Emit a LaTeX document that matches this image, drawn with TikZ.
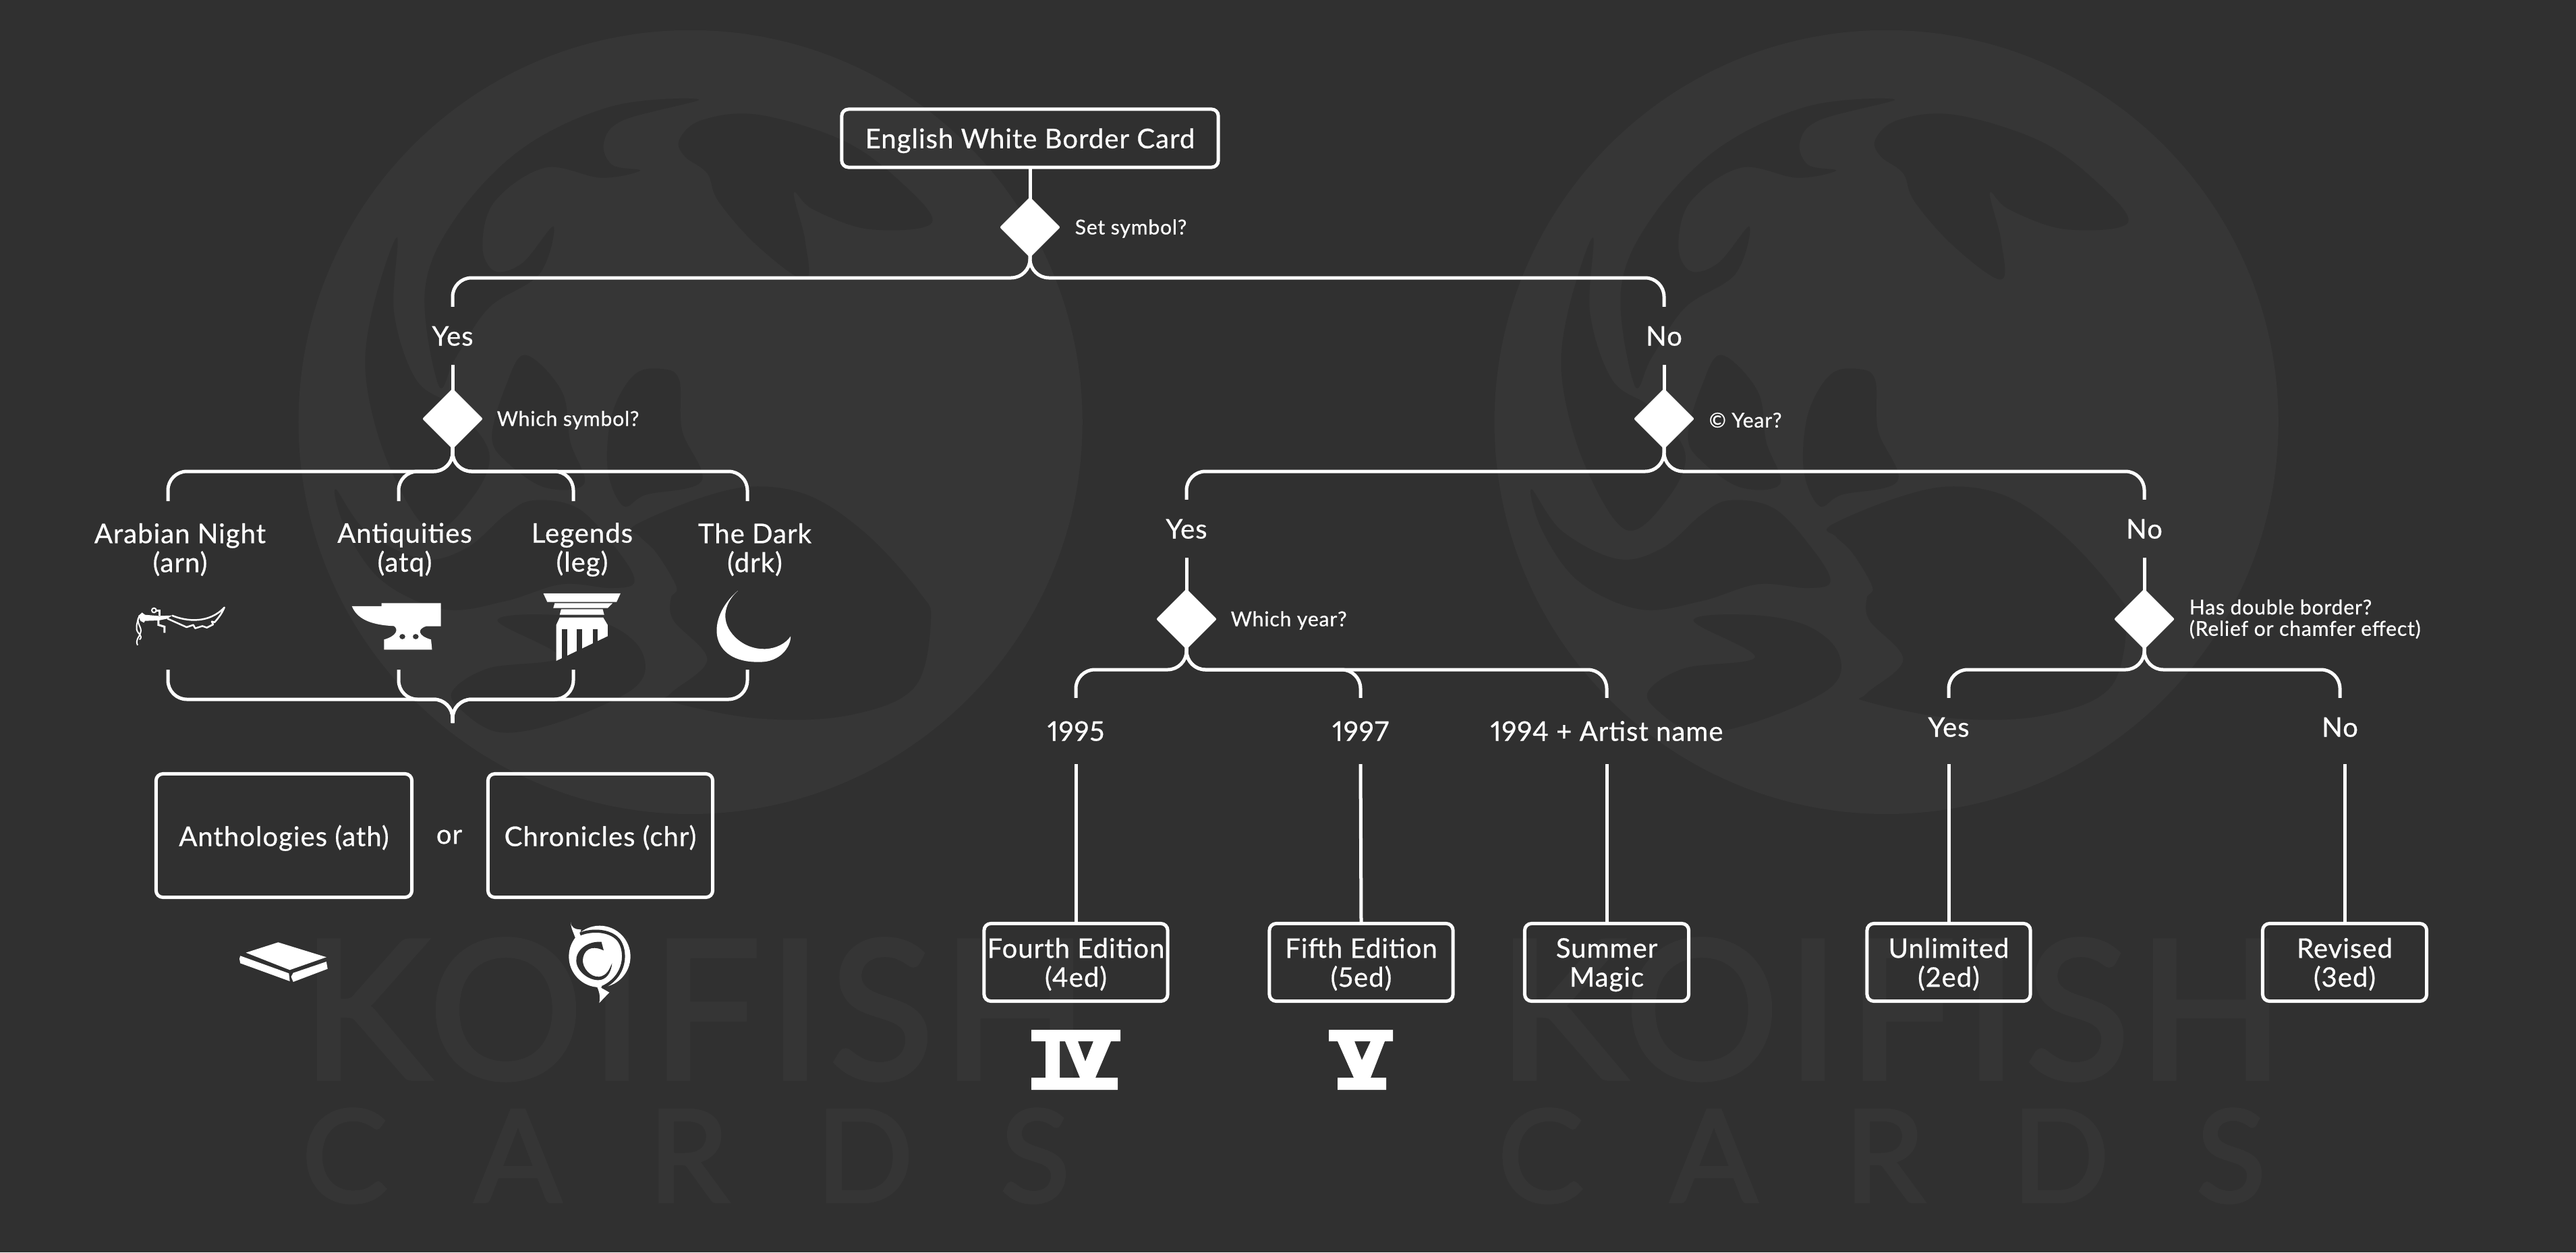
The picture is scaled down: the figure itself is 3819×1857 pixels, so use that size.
\documentclass[tikz,border=0pt]{standalone}
\usepackage{fontspec}
\setmainfont[LetterSpace=2.5,FakeBold=0.6,Numbers=Proportional]{Lato}
\newfontfamily\markfont[LetterSpace=4,FakeBold=2.5]{Lato}
\newfontfamily\cardsfont[LetterSpace=68,FakeBold=2.5]{Lato}
\usetikzlibrary{shapes.geometric}
\definecolor{bgdark}{HTML}{303030}
\definecolor{bgmark}{HTML}{363636}
\definecolor{bgtext}{HTML}{353535}
\tikzset{
  wire/.style={draw=white,line width=0.05cm,rounded corners=0.28cm},
  glyph/.style={fill=white,draw=none},
  boxnode/.style={draw=white,line width=0.05cm,rounded corners=0.1cm,inner sep=0pt,outer sep=0pt,text depth=0pt,
    text=white,align=center,font=\fontsize{11.4}{12.2}\selectfont},
  query/.style={diamond,aspect=1,fill=white,draw=white,line width=0.04cm,line join=round,
    minimum size=0.84cm,inner sep=0pt,outer sep=0pt},
  answer/.style={text=white,inner sep=0pt,outer sep=0pt,minimum height=0.86cm,text height=0.36cm,text depth=0.07cm,
    font=\fontsize{11.4}{12.2}\selectfont},
  setname/.style={text=white,inner sep=0pt,align=center,font=\fontsize{11.4}{12.2}\selectfont},
  asktext/.style={text=white,inner sep=0pt,anchor=west,align=left,font=\fontsize{8.6}{9}\selectfont}
}
\newcommand{\fork}[3]{\draw[wire] (#1) |- (#2 |- #3) -- (#2);}
\newcommand{\koimark}[1]{
\begin{scope}[shift={(#1,0)},scale=0.829]
\fill[bgmark] (780,755) circle (701);
\fill[bgdark] plot[smooth cycle,tension=0.6] coordinates {(795,178) (640,190) (480,265) (360,390) (305,520) (330,690) (360,640) (420,550) (510,490) (535,405) (480,470) (430,485) (408,440) (430,360) (520,300) (620,318) (690,305) (640,295) (625,255) (660,215)};
\fill[bgdark] plot[smooth cycle,tension=0.6] coordinates {(760,250) (800,215) (900,205) (1050,250) (1150,320) (1212,398) (1100,410) (1000,375) (965,345) (985,430) (985,500) (900,440) (830,360) (810,310) (770,280)};
\fill[bgdark] plot[smooth cycle,tension=0.6] coordinates {(255,425) (210,560) (200,680) (240,830) (315,948) (390,890) (420,810) (360,730) (290,680) (250,560)};
\fill[bgdark] plot[smooth cycle,tension=0.6] coordinates {(485,635) (550,700) (565,790) (590,865) (520,872) (450,825) (425,780) (450,690)};
\fill[bgdark] plot[smooth cycle,tension=0.6] coordinates {(730,660) (760,680) (765,770) (800,860) (700,885) (660,905) (632,840) (640,740) (680,670)};
\fill[bgdark] plot[smooth cycle,tension=0.6] coordinates {(680,940) (800,890) (900,870) (1000,890) (1100,960) (1190,1060) (1210,1110) (1180,1230) (1060,1280) (900,1285) (745,1255) (745,1240) (810,1180) (750,1110) (745,1070) (755,1050) (720,990) (690,960)};
\fill[bgdark] plot[smooth cycle,tension=0.6] coordinates {(145,875) (200,950) (300,1000) (380,980) (450,920) (500,895) (580,910) (650,985) (680,1040) (640,1052) (550,1045) (450,1075) (340,1090) (230,1040) (165,950)};
\fill[bgdark] plot[smooth cycle,tension=0.6] coordinates {(435,1110) (540,1100) (640,1120) (695,1170) (680,1230) (550,1290) (440,1310) (370,1270) (355,1235) (420,1195) (545,1175)};
\end{scope}
\node[anchor=west,inner sep=0pt,text=bgtext,font=\fontsize{81}{81}\markfont] (koi#1) at (#1+70,1497) {KOIFISH};
\node[anchor=west,inner sep=0pt,text=bgtext,font=\fontsize{54}{54}\cardsfont] (cards#1) at (#1+70,1714) {CARDS};
}
\begin{document}
\begin{tikzpicture}[x=0.01cm,y=-0.01cm]
\useasboundingbox (0,0) rectangle (3819,1857);
\fill[bgdark] (0,0) rectangle (3819,1857);

\koimark{377}
\koimark{2150}

\node[boxnode,minimum width=5.58cm,minimum height=0.86cm] (root) at (1527,205) {English White Border Card};
\node[query] (setq) at (1527,337) {};
\node[asktext] (setqt) at (1593,339) {Set symbol?};
\node[answer] (yes1) at (671,498) {Yes};
\node[answer] (no1) at (2467,498) {No};
\node[query] (whichq) at (671,621) {};
\node[asktext] (whichqt) at (736,623) {Which symbol?};
\node[query] (yearq) at (2467,621) {};
\node[asktext] (yearqt) at (2533,623) {© Year?};

\node[answer] (yes2) at (1759,784) {Yes};
\node[answer] (no2) at (3179,784) {No};
\node[query] (yrq) at (1759,918) {};
\node[asktext] (yrqt) at (1824,920) {Which year?};
\node[query] (dblq) at (3179,918) {};
\node[asktext] (dblqt) at (3245,918) {Has double border?\\(Relief or chamfer effect)};

\node[answer,minimum height=0.98cm] (y95) at (1595,1084) {1995};
\node[answer,minimum height=0.98cm] (y97) at (2017,1084) {1997};
\node[answer,minimum height=0.98cm] (y94) at (2382,1084) {1994 + Artist name};
\node[answer,minimum height=0.98cm,text depth=0.19cm] (yes3) at (2889,1084) {Yes};
\node[answer,minimum height=0.98cm,text depth=0.19cm] (no3) at (3469,1084) {No};

\node[boxnode,minimum width=2.72cm,minimum height=1.15cm] (ed4) at (1595,1427) {Fourth Edition\\(4ed)};
\node[boxnode,minimum width=2.72cm,minimum height=1.15cm] (ed5) at (2018,1427) {Fifth Edition\\(5ed)};
\node[boxnode,minimum width=2.43cm,minimum height=1.15cm] (summer) at (2382,1427) {Summer\\Magic};
\node[boxnode,minimum width=2.42cm,minimum height=1.15cm] (ed2) at (2889,1427) {Unlimited\\(2ed)};
\node[boxnode,minimum width=2.43cm,minimum height=1.15cm] (ed3) at (3476,1427) {Revised\\(3ed)};

\node[setname] (arn) at (267,815) {Arabian Night\\(arn)};
\node[setname] (atq) at (600,815) {Antiquities\\(atq)};
\node[setname] (leg) at (863,815) {Legends\\(leg)};
\node[setname] (drk) at (1119,815) {The Dark\\(drk)};

\node[boxnode,minimum width=3.79cm,minimum height=1.83cm] (ath) at (421,1239) {Anthologies (ath)};
\node[setname] (orword) at (666,1241) {or};
\node[boxnode,minimum width=3.33cm,minimum height=1.83cm] (chr) at (890,1239) {Chronicles (chr)};

\coordinate (bus1) at (0,412);
\coordinate (bus2) at (0,699);
\coordinate (bus3) at (0,993);
\coordinate (bus4) at (0,1037);
\coordinate (arnin) at (249,743);
\coordinate (atqin) at (591,743);
\coordinate (legin) at (850,743);
\coordinate (drkin) at (1108,743);
\coordinate (arnout) at (249,993);
\coordinate (atqout) at (591,993);
\coordinate (legout) at (850,993);
\coordinate (drkout) at (1108,993);
\coordinate (merge) at (671,1072);

\draw[wire] (root) -- (setq);
\fork{setq.south}{yes1.north}{bus1}
\fork{setq.south}{no1.north}{bus1}
\draw[wire] (yes1.south) -- (whichq.north);
\draw[wire] (no1.south) -- (yearq.north);
\fork{whichq.south}{arnin}{bus2}
\fork{whichq.south}{atqin}{bus2}
\fork{whichq.south}{legin}{bus2}
\fork{whichq.south}{drkin}{bus2}
\fork{merge}{arnout}{bus4}
\fork{merge}{atqout}{bus4}
\fork{merge}{legout}{bus4}
\fork{merge}{drkout}{bus4}
\fork{yearq.south}{yes2.north}{bus2}
\fork{yearq.south}{no2.north}{bus2}
\draw[wire] (yes2.south) -- (yrq.north);
\draw[wire] (no2.south) -- (dblq.north);
\fork{yrq.south}{y95.north}{bus3}
\fork{yrq.south}{y97.north}{bus3}
\fork{yrq.south}{y94.north}{bus3}
\fork{dblq.south}{yes3.north}{bus3}
\fork{dblq.south}{no3.north}{bus3}
\draw[wire] (y95.south) -- (ed4.north);
\draw[wire] (y97.south) -- (ed5.north);
\draw[wire] (y94.south) -- (summer.north);
\draw[wire] (yes3.south) -- (ed2.north);
\draw[wire] (ed3.north |- no3.south) -- (ed3.north);

% arn
\begin{scope}[shift={(190,880)},scale=0.3333]
\fill[glyph] (62,85) -- (75,95) -- (135,100) -- (195,98) -- (175,112) -- (135,120) -- (75,122) -- (70,130) -- (55,122) -- (45,100) -- cycle;
\draw[white,line width=0.02cm] (115,75) circle (10);
\draw[white,line width=0.03cm] (125,75) -- (140,75) -- (140,100);
\draw[white,line width=0.03cm] (135,120) -- (135,140) -- (162,148) -- (162,175);
\draw[white,line width=0.025cm,line join=round] (195,98) .. controls (260,125) and (360,135) .. (428,62) .. controls (415,95) and (395,115) .. (385,128) -- (372,125) -- (378,138) -- (350,152) -- (330,145) -- (298,155) -- (290,140) -- (260,150) -- (175,112);
\draw[white,line width=0.02cm] (50,100) .. controls (30,130) and (65,150) .. (55,175) .. controls (50,195) and (30,205) .. (42,230);
\draw[white,line width=0.02cm] (45,110) .. controls (40,135) and (30,155) .. (45,175) .. controls (60,190) and (60,200) .. (50,205);
\end{scope}
% atq
\begin{scope}[shift={(100,650)},xscale=0.7334,yscale=0.3333]
\fill[glyph,even odd rule] (575,747) -- (635,747) -- (635,733) -- (755,733) -- (755,836) -- (725,836) .. controls (705,850) and (710,880) .. (735,895) -- (737,940) -- (640,940) -- (640,895) .. controls (665,880) and (670,850) .. (660,835) .. controls (610,830) and (585,800) .. (575,747) -- cycle
(677,882) ellipse (6 and 12) (704,882) ellipse (6 and 12);
\end{scope}
% leg
\begin{scope}[shift={(100,650)},xscale=0.7334,yscale=0.3333]
\fill[glyph] (962,690) -- (1118,690) -- (1110,728) -- (970,728) -- cycle;
\fill[glyph] (985,733) -- (1102,733) -- (1092,755) -- (982,755) -- cycle;
\fill[glyph] (998,760) -- (1082,760) -- (1085,785) -- (995,785) -- cycle;
\fill[glyph] (995,797) -- (1083,797) -- (1092,830) -- (1092,880) -- (988,990) -- (988,830) -- cycle;
\fill[bgdark] (1000,850) rectangle (1010,1000);
\fill[bgdark] (1030,850) rectangle (1040,1000);
\fill[bgdark] (1062,850) rectangle (1072,1000);
\fill[bgdark] (988,992) -- (1095,880) -- (1095,1000) -- cycle;
\end{scope}
% drk
\begin{scope}[shift={(100,650)},xscale=0.7334,yscale=0.3333]
\fill[glyph] (1355,678) .. controls (1290,800) and (1295,1000) .. (1400,995) .. controls (1440,995) and (1462,930) .. (1462,880) .. controls (1440,950) and (1385,960) .. (1350,885) .. controls (1320,820) and (1325,740) .. (1355,678) -- cycle;
\end{scope}
% ath
\begin{scope}[shift={(200,1100)},xscale=0.6378,yscale=0.3333]
\fill[glyph] (333,892) -- (445,958) -- (360,1015) -- (258,938) -- cycle;
\fill[glyph] (245,952) -- (358,1030) -- (360,1065) -- (245,985) -- (243,965) -- cycle;
\fill[glyph] (368,1028) -- (445,978) -- (448,1010) -- (368,1068) -- (363,1045) -- cycle;
\end{scope}
% chr
\begin{scope}[shift={(820,1350)},scale=0.3333]
\fill[glyph] (207,205) circle (137);
\fill[glyph] (78,52) .. controls (80,75) and (95,85) .. (125,85) -- (105,150) .. controls (100,110) and (80,90) .. (78,52) -- cycle;
\fill[glyph] (190,330) -- (250,365) -- (205,412) .. controls (212,385) and (205,355) .. (190,330) -- cycle;
\draw[bgdark,line width=0.045cm] (120,105) .. controls (170,85) and (250,85) .. (290,130) .. controls (330,180) and (325,295) .. (218,343);
\fill[bgdark] (215,140) .. controls (150,135) and (100,180) .. (103,225) .. controls (105,275) and (170,320) .. (215,308) .. controls (245,300) and (260,265) .. (262,235) .. controls (250,262) and (240,290) .. (205,295) .. controls (165,298) and (130,255) .. (132,220) .. controls (135,180) and (165,150) .. (225,178) -- cycle;
\end{scope}
% iv
\fill[glyph,even odd rule] (1529,1527) -- (1661,1527) -- (1661,1544) -- (1647,1544) -- (1624,1598) -- (1657,1598) -- (1657,1616) -- (1529,1616) -- (1529,1598) -- (1550,1598) -- (1550,1544) -- (1529,1544) -- cycle
(1571,1544) -- (1579,1544) -- (1601,1598) -- (1571,1598) -- cycle
(1598,1544) -- (1621,1544) -- (1609,1574) -- cycle;
% v
\fill[glyph,even odd rule] (1970,1527) -- (2065,1527) -- (2065,1544) -- (2053,1544) -- (2032,1598) -- (2055,1598) -- (2055,1616) -- (1983,1616) -- (1983,1598) -- (2007,1598) -- (1983,1544) -- (1970,1544) -- cycle
(2008,1544) -- (2032,1544) -- (2019,1572) -- cycle;
\end{tikzpicture}
\end{document}
